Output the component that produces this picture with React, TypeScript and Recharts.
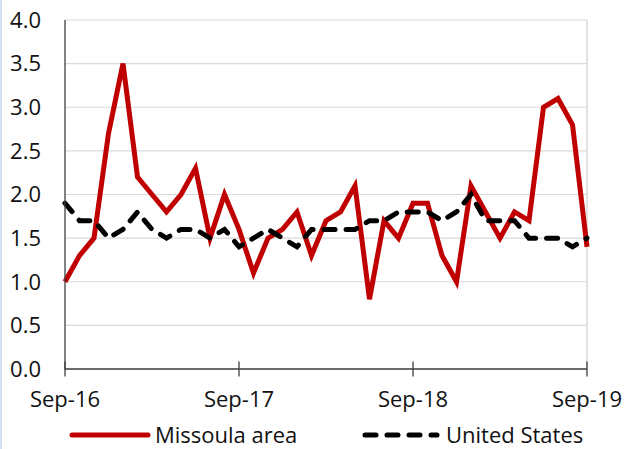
import { CartesianGrid, Legend, Line, LineChart, ReferenceLine, XAxis, YAxis } from "recharts";

const months = [
  "Sep-16", "Oct-16", "Nov-16", "Dec-16", "Jan-17", "Feb-17", "Mar-17", "Apr-17", "May-17", "Jun-17", "Jul-17", "Aug-17",
  "Sep-17", "Oct-17", "Nov-17", "Dec-17", "Jan-18", "Feb-18", "Mar-18", "Apr-18", "May-18", "Jun-18", "Jul-18", "Aug-18",
  "Sep-18", "Oct-18", "Nov-18", "Dec-18", "Jan-19", "Feb-19", "Mar-19", "Apr-19", "May-19", "Jun-19", "Jul-19", "Aug-19",
  "Sep-19",
];

const missoula = [
  1.0, 1.3, 1.5, 2.7, 3.5, 2.2, 2.0, 1.8, 2.0, 2.3, 1.5, 2.0,
  1.6, 1.1, 1.5, 1.6, 1.8, 1.3, 1.7, 1.8, 2.1, 0.8, 1.7, 1.5,
  1.9, 1.9, 1.3, 1.0, 2.1, 1.8, 1.5, 1.8, 1.7, 3.0, 3.1, 2.8,
  1.4,
];

const unitedStates = [
  1.9, 1.7, 1.7, 1.5, 1.6, 1.8, 1.6, 1.5, 1.6, 1.6, 1.5, 1.6,
  1.4, 1.5, 1.6, 1.5, 1.4, 1.6, 1.6, 1.6, 1.6, 1.7, 1.7, 1.8,
  1.8, 1.8, 1.7, 1.8, 2.0, 1.7, 1.7, 1.7, 1.5, 1.5, 1.5, 1.4,
  1.5,
];

const xTicks = ["Sep-16", "Sep-17", "Sep-18", "Sep-19"];
const yTicks = [0, 0.5, 1, 1.5, 2, 2.5, 3, 3.5, 4];

const data = months.map((m, i) => ({ month: m, missoula: missoula[i], us: unitedStates[i] }));

const TEXT = "#111";

// Excel-style cross tick: mark straddles the axis, label below
function XTick({ x, y, payload }: any) {
  return (
    <g>
      <line x1={x} x2={x} y1={y - 7.5} y2={y + 7.5} stroke="#404040" strokeWidth={1.3} />
      <text x={x} y={y + 38} textAnchor="middle" fontSize={22} fill={TEXT}>
        {payload.value}
      </text>
    </g>
  );
}

// legend sample positions (line start, line end, text start)
const legendSlots = [
  { x1: 72, x2: 148, tx: 155 },
  { x1: 365, x2: 437, tx: 446 },
];

function ChartLegend({ payload }: any) {
  const items = (payload || []).filter((p: any) => p.dataKey);
  return (
    <div style={{ position: "relative", width: 624, height: 45 }}>
      {items.map((p: any, i: number) => {
        const s = legendSlots[i];
        const w = s.x2 - s.x1;
        return (
          <div key={p.dataKey}>
            <svg style={{ position: "absolute", left: s.x1 - 4, top: 26 }} width={w + 8} height={10}>
              <line
                x1={4}
                x2={4 + w}
                y1={5}
                y2={5}
                stroke={p.color}
                strokeWidth={5}
                strokeLinecap="round"
                strokeDasharray={p.payload?.strokeDasharray}
              />
            </svg>
            <span
              style={{
                position: "absolute",
                left: s.tx,
                top: 19,
                fontSize: 22,
                lineHeight: "22px",
                color: TEXT,
                whiteSpace: "nowrap",
              }}
            >
              {p.value}
            </span>
          </div>
        );
      })}
    </div>
  );
}

export default function App() {
  return (
    <div style={{ position: "absolute", left: 0, top: 0, width: 624, height: 449, background: "#fff", fontFamily: "'Open Sans', sans-serif" }}>
      <div style={{ position: "absolute", left: 0, top: 0, width: 2, height: 449, background: "#d5e1f3" }} />
      <LineChart width={624} height={449} data={data} margin={{ top: 20, right: 37, bottom: 0, left: 0 }}>
        <CartesianGrid vertical={false} stroke="#d9d9d9" strokeWidth={1.2} />
        <ReferenceLine x="Sep-19" stroke="#d9d9d9" strokeWidth={1.5} />
        <XAxis
          dataKey="month"
          ticks={xTicks}
          interval={0}
          height={35}
          tickSize={0}
          tickMargin={0}
          tickLine={false}
          axisLine={{ stroke: "#404040", strokeWidth: 1.3 }}
          tick={<XTick />}
        />
        <YAxis
          domain={[0, 4]}
          ticks={yTicks}
          tickFormatter={(v: number) => v.toFixed(1)}
          width={65}
          tickSize={0}
          tickMargin={24}
          tickLine={false}
          axisLine={{ stroke: "#404040", strokeWidth: 1.3 }}
          tick={{ fontSize: 22, fill: TEXT }}
        />
        <Legend verticalAlign="bottom" height={45} wrapperStyle={{ left: 0, width: 624, bottom: 0 }} content={<ChartLegend />} />
        <Line
          dataKey="missoula"
          name="Missoula area"
          type="linear"
          stroke="#c00000"
          strokeWidth={5}
          dot={false}
          isAnimationActive={false}
        />
        <Line
          dataKey="us"
          name="United States"
          type="linear"
          stroke="#000"
          strokeWidth={5}
          strokeDasharray="11 11"
          strokeLinecap="round"
          dot={false}
          isAnimationActive={false}
        />
      </LineChart>
    </div>
  );
}
